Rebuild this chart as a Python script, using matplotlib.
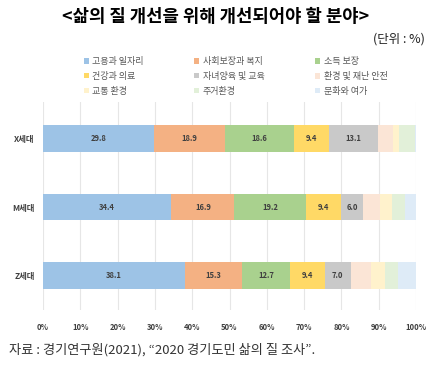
import numpy as np
import matplotlib
matplotlib.use("Agg")
import matplotlib.pyplot as plt

plt.rcParams['font.family'] = ['Noto Sans CJK KR', 'DejaVu Sans']

groups = ['Z세대', 'M세대', 'X세대']
categories = ['고용과 일자리', '사회보장과 복지', '소득 보장', '건강과 의료', '자녀양육 및 교육',
              '환경 및 재난 안전', '교통 환경', '주거환경', '문화와 여가']
# rows: Z, M, X
values = {
    'Z세대': [38.1, 15.3, 12.7, 9.4, 7.0, 5.5, 3.6, 3.6, 4.8],
    'M세대': [34.4, 16.9, 19.2, 9.4, 6.0, 4.4, 3.2, 3.6, 2.9],
    'X세대': [29.8, 18.9, 18.6, 9.4, 13.1, 4.1, 1.5, 4.2, 0.4],
}
n_labeled = 5
colors = ['#9DC3E6', '#F4B183', '#A9D18E', '#FFD966', '#C9C9C9',
          '#FBE5D6', '#FFF2CC', '#E2F0D9', '#DEEBF7']

fig = plt.figure(figsize=(4.31, 3.67), dpi=100)
ax = fig.add_axes([0.0998, 0.155, 0.8655, 0.567])

y = np.arange(len(groups))
left = np.zeros(len(groups))
handles = []
for j, cat in enumerate(categories):
    vals = np.array([values[g][j] for g in groups])
    bars = ax.barh(y, vals, left=left, height=0.39, color=colors[j], label=cat, zorder=2)
    handles.append(bars)
    if j < n_labeled:
        for yi, (l, v) in enumerate(zip(left, vals)):
            ax.text(l + v / 2, yi, f'{v:.1f}', ha='center', va='center',
                    fontsize=5.5, fontweight='bold', color='#404040')
    left += vals

ax.set_xlim(0, 100)
ax.set_ylim(-0.5, 2.53)
ax.set_xticks(np.arange(0, 101, 10))
ax.set_xticklabels([f'{t}%' for t in range(0, 101, 10)], fontsize=5.5,
                   fontweight='bold', color='#404040')
ax.set_yticks(y)
ax.set_yticklabels(groups, fontsize=6, fontweight='bold', color='#404040')
ax.tick_params(length=0, pad=9)
ax.tick_params(axis='y', pad=6)
ax.grid(axis='x', color='#E6E6E6', linewidth=0.8, zorder=0)
for s in ax.spines.values():
    s.set_visible(False)

order = [0, 3, 6, 1, 4, 7, 2, 5, 8]
fig.legend([handles[i] for i in order], [categories[i] for i in order],
           ncol=3, loc='upper left', bbox_to_anchor=(0.175, 0.866),
           frameon=False, fontsize=6.5, handlelength=0.55, handleheight=0.55,
           handletextpad=0.4, columnspacing=5.6, labelspacing=0.62,
           labelcolor='#595959')

fig.text(0.5, 0.955, '<삶의 질 개선을 위해 개선되어야 할 분야>', ha='center', va='center',
         fontsize=12.8, fontweight='bold')
fig.text(0.985, 0.895, '(단위 : %)', ha='right', va='center', fontsize=9, color='#222222')
fig.text(0.022, 0.048, '자료 : 경기연구원(2021), “2020 경기도민 삶의 질 조사”.',
         ha='left', va='center', fontsize=9.5, color='#333333')

fig.savefig('out.png', dpi=100)
